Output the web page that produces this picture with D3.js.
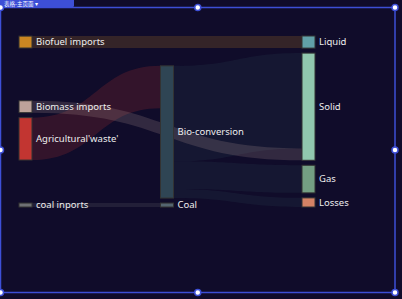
<!DOCTYPE html>
<html><head><meta charset="utf-8">
<script src="https://cdn.jsdelivr.net/npm/d3@7"></script>
<style>html,body{margin:0;padding:0;background:#100c2a;overflow:hidden}</style>
</head><body>
<svg id="chart" width="402" height="299"></svg>
<script>
// ---------- data ----------
const nodeNames = ["Agricultural'waste'", "Bio-conversion", "Liquid", "Losses", "Solid", "Gas",
                   "Biofuel imports", "Biomass imports", "coal inports", "Coal"];
const nodeColors = ['#c23531','#2f4554','#61a0a8','#d48265','#91c7ae','#749f83',
                    '#ca8622','#bda29a','#6e7074','#546570'];
const linkSources = ["Agricultural'waste'", "Bio-conversion", "Bio-conversion", "Bio-conversion",
                     "Bio-conversion", "Biofuel imports", "Biomass imports", "coal inports"];
const linkTargets = ["Bio-conversion", "Liquid", "Losses", "Solid", "Gas", "Liquid", "Solid", "Coal"];
const linkValues  = [124.729, 0.597, 26.862, 280.322, 81.144, 35, 35, 11.606];

// ---------- layout settings ----------
const W = 402, H = 299;
const ext = {left: 19, right: 315, top: 36, bottom: 207};
const nodeWidth = 13, nodeGap = 5, iterations = 32;

const svg = d3.select('#chart');
svg.append('rect').attr('width', W).attr('height', H).attr('fill', '#100c2a');

// ---------- build graph ----------
const nodes = nodeNames.map((name, i) => ({name, color: nodeColors[i], sourceLinks: [], targetLinks: []}));
const byName = new Map(nodes.map(n => [n.name, n]));
const links = linkValues.map((v, i) => ({source: byName.get(linkSources[i]), target: byName.get(linkTargets[i]), value: v}));
links.forEach(l => { l.source.sourceLinks.push(l); l.target.targetLinks.push(l); });
nodes.forEach(n => n.value = Math.max(d3.sum(n.sourceLinks, l => l.value), d3.sum(n.targetLinks, l => l.value)));

// breadths (left aligned)
let remaining = nodes.slice(), depth = 0;
while (remaining.length) {
  const next = [];
  remaining.forEach(n => { n.depth = depth; n.sourceLinks.forEach(l => { if (next.indexOf(l.target) < 0) next.push(l.target); }); });
  remaining = next; depth++;
}
const maxDepth = depth - 1;
const xScale = d3.scaleLinear().domain([0, maxDepth]).range([ext.left, ext.right - nodeWidth]);
nodes.forEach(n => { n.x = xScale(n.depth); });
const columns = d3.groups(nodes, n => n.depth).sort((a, b) => a[0] - b[0]).map(d => d[1]);

// value scale from densest column
const avail = ext.bottom - ext.top;
let dense = columns[0], best = Infinity;
columns.forEach(c => {
  const k = (avail - (c.length - 1) * nodeGap) / d3.sum(c, n => n.value);
  if (k < best) { best = k; dense = c; }
});
const vScale = d3.scaleLinear().domain([0, d3.sum(dense, n => n.value)])
                 .range([0, avail - (dense.length - 1) * nodeGap]);

nodes.forEach(n => n.dy = vScale(n.value));
links.forEach(l => l.dy = vScale(l.value));
columns.forEach(c => c.forEach((n, i) => n.y = i));

const center = n => n.y + n.dy / 2;
function resolveCollisions() {
  columns.forEach(c => {
    let y0 = 0, node, dy;
    c.sort((a, b) => a.y - b.y);
    for (let i = 0; i < c.length; i++) {
      node = c[i]; dy = y0 - node.y;
      if (dy > 0) node.y += dy;
      y0 = node.y + node.dy + nodeGap;
    }
    dy = y0 - nodeGap - avail;
    if (dy > 0) {
      y0 = node.y -= dy;
      for (let i = c.length - 2; i >= 0; i--) {
        node = c[i]; dy = node.y + node.dy + nodeGap - y0;
        if (dy > 0) node.y -= dy;
        y0 = node.y;
      }
    }
  });
}
function relaxLeftToRight(alpha) {
  columns.forEach(c => c.forEach(n => {
    if (n.targetLinks.length) {
      const y = d3.sum(n.targetLinks, l => center(l.source) * l.value) / d3.sum(n.targetLinks, l => l.value);
      n.y += (y - center(n)) * alpha;
    }
  }));
}
function relaxRightToLeft(alpha) {
  columns.slice().reverse().forEach(c => c.forEach(n => {
    if (n.sourceLinks.length) {
      const y = d3.sum(n.sourceLinks, l => center(l.target) * l.value) / d3.sum(n.sourceLinks, l => l.value);
      n.y += (y - center(n)) * alpha;
    }
  }));
}
resolveCollisions();
for (let a = 1, it = iterations; it > 0; --it) {
  relaxRightToLeft(a *= 0.99); resolveCollisions();
  relaxLeftToRight(a); resolveCollisions();
}
nodes.forEach(n => n.y += ext.top);
nodes.forEach(n => {
  n.sourceLinks.sort((a, b) => a.target.y - b.target.y);
  n.targetLinks.sort((a, b) => a.source.y - b.source.y);
  let sy = 0, ty = 0;
  n.sourceLinks.forEach(l => { l.sy = sy; sy += l.dy; });
  n.targetLinks.forEach(l => { l.ty = ty; ty += l.dy; });
});

// ---------- draw ----------
function linkPath(l) {
  const sx = l.source.x + nodeWidth, tx = l.target.x, c = (sx + tx) / 2;
  const ys = l.source.y + l.sy, yt = l.target.y + l.ty;
  return `M${sx},${ys}C${c},${ys} ${c},${yt} ${tx},${yt}L${tx},${yt + l.dy}C${c},${yt + l.dy} ${c},${ys + l.dy} ${sx},${ys + l.dy}Z`;
}
svg.append('g').selectAll('path').data(links).join('path')
  .attr('d', linkPath).attr('fill', l => l.source.color).attr('fill-opacity', 0.2);

svg.append('g').selectAll('rect').data(nodes).join('rect')
  .attr('x', n => n.x).attr('y', n => n.y).attr('width', nodeWidth).attr('height', n => Math.max(n.dy, 1))
  .attr('fill', n => n.color).attr('stroke', '#333').attr('stroke-width', 1);

svg.append('g').selectAll('text').data(nodes).join('text')
  .attr('x', n => n.x + nodeWidth + 4).attr('y', n => center(n))
  .attr('dy', '0.35em')
  .attr('fill', '#eeeeee')
  .style('font-family', "'Noto Sans', 'Open Sans', sans-serif").style('font-size', '9.5px')
  .text(n => n.name);

// ---------- editor selection frame overlay ----------
const frame = svg.append('g');
const fx0 = 0.5, fx1 = 395, fy0 = 7.5, fy1 = 292.5;
frame.append('rect').attr('x', fx0).attr('y', fy0).attr('width', fx1 - fx0).attr('height', fy1 - fy0)
  .attr('fill', 'none').attr('stroke', '#3d4fd6').attr('stroke-width', 1.5);
frame.append('rect').attr('x', 0).attr('y', -4).attr('width', 74).attr('height', 11.5).attr('rx', 2).attr('fill', '#3d4fd6');
frame.append('text').attr('x', 4).attr('y', 6.4).attr('fill', '#fff')
  .style('font-family', "'Noto Sans CJK SC', sans-serif").style('font-size', '5.5px').text('表格-主页面 ▾');
const handles = [[fx0, fy0], [(fx0 + fx1) / 2, fy0], [fx1, fy0], [fx0, (fy0 + fy1) / 2], [fx1, (fy0 + fy1) / 2],
                 [fx0, fy1], [(fx0 + fx1) / 2, fy1], [fx1, fy1]];
frame.selectAll('circle').data(handles).join('circle')
  .attr('cx', d => d[0]).attr('cy', d => d[1]).attr('r', 3)
  .attr('fill', '#fff').attr('stroke', '#3d4fd6').attr('stroke-width', 1.5);
</script>
</body></html>
